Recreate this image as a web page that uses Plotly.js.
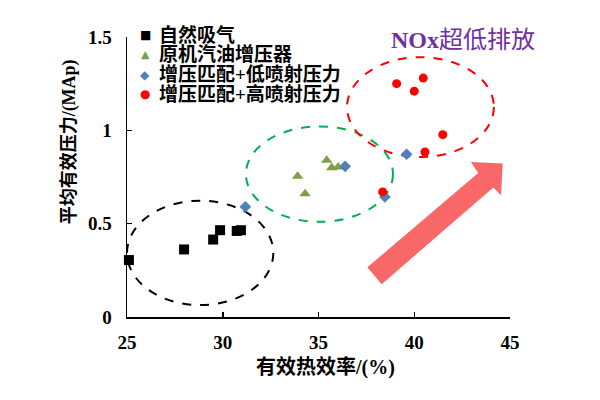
<!DOCTYPE html>
<html>
<head>
<meta charset="utf-8">
<script src="https://cdn.plot.ly/plotly-3.0.1.min.js"></script>
<style>html,body{margin:0;padding:0;background:#fff;}#chart{width:600px;height:400px;}</style>
</head>
<body>
<div id="chart"></div>
<script>
// ---- data ----
const seriesNames = ['自然吸气', '原机汽油增压器', '增压匹配+低喷射压力', '增压匹配+高喷射压力'];
const natX  = [25.1, 27.98, 29.5, 29.86, 30.73, 30.95];
const natY  = [0.305, 0.362, 0.415, 0.465, 0.461, 0.465];
const origX = [33.91, 34.3, 35.43, 35.69, 36.03];
const origY = [0.754, 0.66, 0.84, 0.80, 0.804];
const lowX  = [31.18, 36.39, 38.47, 39.6];
const lowY  = [0.59, 0.807, 0.643, 0.872];
const highX = [38.35, 39.08, 40.0, 40.47, 40.56, 41.49];
const highY = [0.67, 1.25, 1.21, 1.28, 0.884, 0.977];
const xTicks = [25, 30, 35, 40, 45];
const yTicks = [0, 0.5, 1, 1.5];
const yTickText = ['0', '0.5', '1', '1.5'];
const xTitle = '有效热效率/(%)';
const yTitle = '平均有效压力/(MAp)';
const noteLatin = 'NOx';
const noteCjk = '超低排放';

// ---- styles ----
const colors  = ['#000000', '#7f9f45', '#4f81bd', '#ff0000'];
const symbols = ['square', 'triangle-up', 'diamond', 'circle'];
const sizes   = [10, 10, 9, 9];
const glyphs  = ['■', '▲', '◆', '●'];
const glyphSizes = [12, 11, 12, 12];
const FONT = 'Liberation Serif, Noto Sans CJK SC, serif';

const xs = [natX, origX, lowX, highX];
const ys = [natY, origY, lowY, highY];

const traces = seriesNames.map((n, i) => ({
  type: 'scatter', mode: 'markers', name: n,
  x: xs[i], y: ys[i], cliponaxis: false, showlegend: false,
  marker: {symbol: symbols[i], color: colors[i], size: sizes[i], line: {width: 0}}
}));

// grouping ellipses (decoration, data-space bounds)
const ellipses = [
  {x0: 25.0, x1: 32.64, y0: 0.064, y1: 0.623, color: '#000000'},
  {x0: 31.21, x1: 38.89, y0: 0.51, y1: 1.021, color: '#00b050'},
  {x0: 36.49, x1: 44.16, y0: 0.857, y1: 1.392, color: '#ff0000'}
];
const shapes = ellipses.map(e => ({
  type: 'circle', xref: 'x', yref: 'y', x0: e.x0, x1: e.x1, y0: e.y0, y1: e.y1,
  line: {color: e.color, width: 2, dash: 'dash'}, fillcolor: 'rgba(0,0,0,0)', layer: 'below'
}));
shapes.push({
  type: 'path', xref: 'x', yref: 'y',
  path: 'M 37.55,0.266 L 43.34,0.772 L 42.96,0.830 L 44.62,0.822 L 44.53,0.652 L 44.13,0.694 L 38.30,0.176 Z',
  fillcolor: '#f86868', line: {width: 0}, layer: 'below'
});

const annotations = [];
seriesNames.forEach((n, i) => {
  const yy = 1.007 - i * 0.0705;
  annotations.push({
    xref: 'paper', yref: 'paper', x: 0.047, y: yy, xanchor: 'center', yanchor: 'middle',
    text: glyphs[i], showarrow: false,
    font: {family: 'DejaVu Sans', size: glyphSizes[i], color: colors[i]}
  });
  annotations.push({
    xref: 'paper', yref: 'paper', x: 0.078, y: yy, xanchor: 'left', yanchor: 'middle',
    text: n, showarrow: false,
    font: {family: FONT, size: 19, color: '#000000', weight: 'bold'}
  });
});
annotations.push({
  xref: 'paper', yref: 'paper', x: 0.877, y: 0.989, xanchor: 'center', yanchor: 'middle',
  text: '<b>' + noteLatin + '</b>' + noteCjk, showarrow: false,
  font: {family: FONT, size: 24, color: '#7030a0'}
});
annotations.push({
  xref: 'paper', yref: 'paper', x: 0.517, y: -0.179, xanchor: 'center', yanchor: 'middle',
  text: xTitle, showarrow: false, font: {family: FONT, size: 20, color: '#000000', weight: 'bold'}
});
annotations.push({
  xref: 'paper', yref: 'paper', x: -0.149, y: 0.627, xanchor: 'center', yanchor: 'middle',
  text: yTitle, textangle: -90, showarrow: false, font: {family: FONT, size: 18, color: '#000000', weight: 'bold'}
});

const axisCommon = {
  showline: true, linecolor: '#000000', linewidth: 1.5, mirror: false,
  showgrid: false, zeroline: false, ticks: 'inside', ticklen: 5, tickwidth: 1.5, tickcolor: '#000000',
  tickfont: {family: 'Liberation Serif', size: 19, color: '#000000', weight: 'bold'}
};

const layout = {
  width: 600, height: 400,
  margin: {l: 127, r: 90, t: 37, b: 83},
  paper_bgcolor: '#ffffff', plot_bgcolor: '#ffffff',
  showlegend: false,
  xaxis: Object.assign({}, axisCommon, {range: [25, 45], tickvals: xTicks, ticklabelstandoff: 8}),
  yaxis: Object.assign({}, axisCommon, {range: [0, 1.5], tickvals: yTicks, ticktext: yTickText, ticklabelstandoff: 10}),
  shapes: shapes,
  annotations: annotations
};

Plotly.newPlot('chart', traces, layout, {displayModeBar: false, staticPlot: true});
</script>
</body>
</html>
